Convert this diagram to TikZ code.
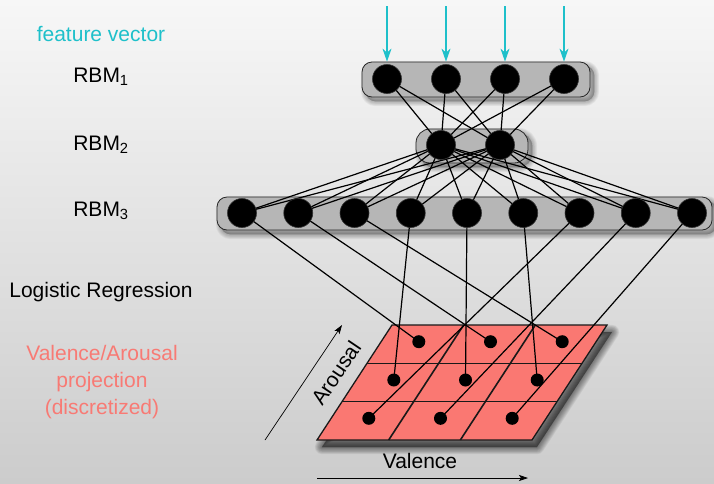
\documentclass[tikz,border=0pt]{standalone}
\usepackage{fontspec}
\setmainfont{Liberation Sans}
\usetikzlibrary{arrows.meta,calc}
\pgfdeclarelayer{backdrop}
\pgfdeclarelayer{shade}
\pgfdeclarelayer{panel}
\pgfdeclarelayer{wires}
\pgfsetlayers{backdrop,shade,panel,wires,main}

\definecolor{cyanarrow}{RGB}{30,192,202}
\definecolor{salmon}{RGB}{250,120,114}
\definecolor{labelsalmon}{RGB}{248,122,116}
\definecolor{panelgray}{RGB}{182,182,182}
\definecolor{bgtop}{RGB}{247,247,247}
\definecolor{bgbottom}{RGB}{204,204,204}

% soft shadow: stacked translucent copies of a path, each stroked wider
\newcommand{\softshadow}[4]{% #1 offset, #2 steps, #3 opacity per step, #4 path
  \begin{scope}[transform canvas={shift={#1}}]
  \foreach \e in {1,...,#2}
    \path[fill=black,draw=black,fill opacity=#3,draw opacity=#3,
          line width=\e*1.6pt,line join=round] #4;
  \end{scope}
}

\begin{document}
\begin{tikzpicture}[x=1pt,y=-1pt,
  neuron/.style={circle,fill=black,draw=black!80,line width=0.6pt,inner sep=0pt,minimum size=29pt},
  gdot/.style={circle,fill=black,inner sep=0pt,minimum size=13pt},
  panel/.style={rounded corners=#1,draw=black!85,line width=0.8pt,fill=panelgray,inner sep=0pt},
  panel/.default=10pt,
  wire/.style={line width=1.2pt,black},
  gridline/.style={line width=1.6pt,black!90},
  feed/.style={cyanarrow,line width=1.2pt,-{Stealth[length=13pt,width=9pt,inset=4pt]}},
  axis/.style={line width=0.7pt,black,-{Stealth[length=9pt,width=6pt,inset=2pt]}},
  label/.style={font=\fontsize{21}{27}\selectfont,align=center},
]
% background
\begin{pgfonlayer}{backdrop}
  \fill[top color=bgtop,bottom color=bgbottom] (0,0) rectangle (714,483);
\end{pgfonlayer}
\useasboundingbox (0,0) rectangle (714,483);

% left-hand labels
\node[label,text=cyanarrow] (lfeat) at (101,34) {feature vector};
\node[label] (lrbm1) at (101,77) {RBM\textsubscript{1}};
\node[label] (lrbm2) at (101,145) {RBM\textsubscript{2}};
\node[label] (lrbm3) at (101,211) {RBM\textsubscript{3}};
\node[label] (llog) at (101,292) {Logistic Regression};
\node[label,text=labelsalmon] (lproj) at (102,382) {Valence/Arousal\\projection\\(discretized)};

% layer panels
\begin{pgfonlayer}{panel}
  \node[panel=10pt,minimum width=228pt,minimum height=35pt] (box1) at (476,79.5) {};
  \node[panel=14pt,minimum width=112pt,minimum height=34pt] (box2) at (472,146) {};
  \node[panel=10pt,minimum width=495pt,minimum height=33pt] (box3) at (464.5,213.5) {};
\end{pgfonlayer}
\begin{pgfonlayer}{shade}
  \softshadow{(4,4)}{6}{0.045}{[rounded corners=10pt] (box1.north west) rectangle (box1.south east)}
  \softshadow{(4,4)}{6}{0.045}{[rounded corners=14pt] (box2.north west) rectangle (box2.south east)}
  \softshadow{(4,4)}{6}{0.045}{[rounded corners=10pt] (box3.north west) rectangle (box3.south east)}
\end{pgfonlayer}

% units
\foreach \i/\x in {1/387,2/446,3/505,4/564}
  \node[neuron] (a\i) at (\x,79) {};
\foreach \i/\x in {1/441,2/500}
  \node[neuron] (b\i) at (\x,145) {};
\foreach \i in {1,...,9}
  \node[neuron] (c\i) at ({242+56.25*(\i-1)},213) {};

% input arrows
\foreach \i/\x in {1/387,2/446,3/505,4/564}{
  \coordinate (in\i) at (\x,6);
  \draw[feed] (in\i) -- (a\i |- box1.north);
}

% valence/arousal plane
\coordinate (gTL) at (392,325);
\coordinate (gTR) at (607,325);
\coordinate (gBR) at (532,440);
\coordinate (gBL) at (317,440);
\begin{pgfonlayer}{shade}
  \softshadow{(5,7)}{9}{0.06}{(gTL) -- (gTR) -- (gBR) -- (gBL) -- cycle}
\end{pgfonlayer}
\begin{pgfonlayer}{panel}
  \fill[salmon] (gTL) -- (gTR) -- (gBR) -- (gBL) -- cycle;
  \foreach \f in {1,2}{
    \draw[gridline] ($(gTL)!\f/3!(gTR)$) -- ($(gBL)!\f/3!(gBR)$);
    \draw[gridline] ($(gTL)!\f/3!(gBL)$) -- ($(gTR)!\f/3!(gBR)$);
  }
  \draw[gridline,line width=1.3pt,line join=miter] (gTL) -- (gTR) -- (gBR) -- (gBL) -- cycle;
\end{pgfonlayer}

% output cells
\foreach \c/\x in {1/418.8,2/490.5,3/562.2}
  \node[gdot] (d1\c) at (\x,341.7) {};
\foreach \c/\x in {1/393.8,2/465.5,3/537.2}
  \node[gdot] (d2\c) at (\x,380) {};
\foreach \c/\x in {1/368.8,2/440.5,3/512.2}
  \node[gdot] (d3\c) at (\x,418.3) {};

% connections
\begin{pgfonlayer}{wires}
  \foreach \i in {1,...,4}
    \foreach \j in {1,2}
      \draw[wire] (a\i.center) -- (b\j.center);
  \foreach \j in {1,2}
    \foreach \k in {1,...,9}
      \draw[wire] (b\j.center) -- (c\k.center);
  \foreach \k/\d in {1/d11,2/d12,3/d13,4/d21,5/d22,6/d23,7/d31,8/d32,9/d33}
    \draw[wire] (c\k.center) -- (\d.center);
\end{pgfonlayer}

% axes
\coordinate (arS) at (265,440);
\coordinate (arE) at (342,325);
\draw[axis] (arS) -- (arE);
\node[label,rotate=56] (larousal) at (336,373) {Arousal};
\coordinate (vaS) at (317,478);
\coordinate (vaE) at (528,478);
\draw[axis] (vaS) -- (vaE);
\node[label] (lvalence) at (420,461) {Valence};
\end{tikzpicture}
\end{document}
